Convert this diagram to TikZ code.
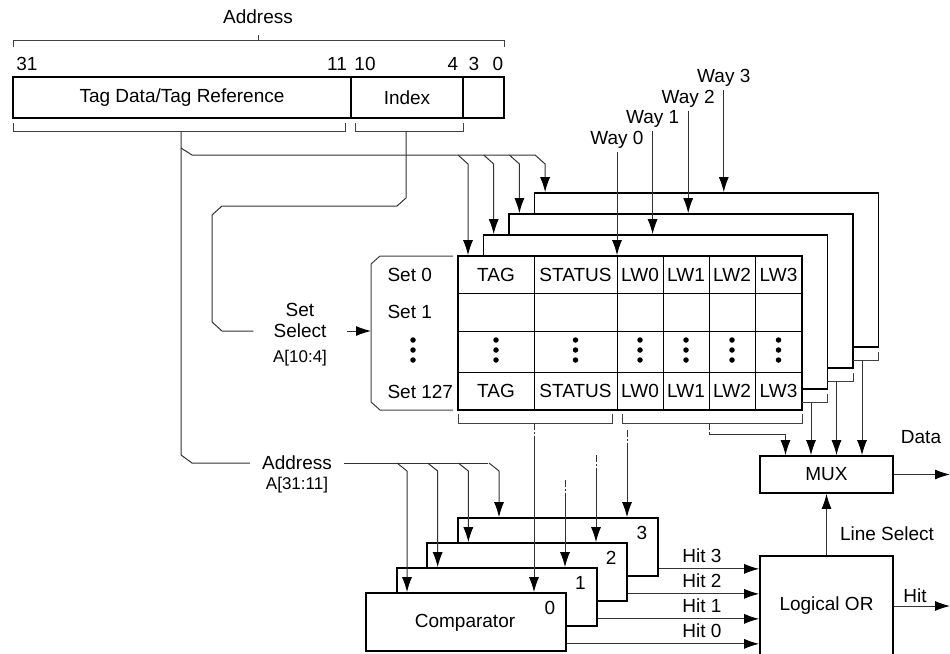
\documentclass[tikz,border=0pt]{standalone}
\usepackage{fontspec}
\setmainfont{Liberation Sans}
\usetikzlibrary{arrows.meta}

\begin{document}
\begin{tikzpicture}[x=1pt,y=-1pt,
    font=\fontsize{19}{21}\selectfont,
    conn/.style={draw=black!80,line width=1pt},
    arr/.style={conn,-{Latex[length=15pt,width=10pt,color=black]}},
    dd/.style={conn,dash pattern=on 7pt off 2pt on 1.5pt off 2pt},
    brk/.style={draw=black!75,line width=1pt},
    field/.style={draw,line width=1.7pt,minimum height=41pt,inner sep=0pt},
    wbox/.style={draw,line width=1.7pt,fill=white,minimum width=344pt,minimum height=154pt,inner sep=0pt},
    cbox/.style={draw,line width=1.7pt,fill=white,minimum width=200pt,minimum height=58pt,inner sep=0pt},
    blk/.style={draw,line width=1.7pt,minimum width=133pt,inner sep=0pt},
    cellline/.style={draw,line width=0.8pt},
    narrow/.style={font=\fontsize{17}{19}\selectfont},
    setdot/.style={circle,fill,inner sep=0pt,minimum size=5.5pt}]
    \useasboundingbox (0,0) rectangle (950,653);

    % address word
    \node (addrtitle) at (258,17) {Address};
    \draw[brk] (13,47) -- (13,40) -- (504,40) -- (504,47) (258,40) -- (258,35);
    \foreach \x/\b in {27/31,337/11,365/10,453/4,474/3,498/0}
        \node (bit\b) at (\x,64) {\b};
    \node[field,minimum width=338pt] (tagfld) at (182,97.5) {Tag Data/Tag Reference};
    \node[field,minimum width=112pt] (idxfld) at (407,97.5) {Index};
    \node[field,minimum width=41pt] (lowfld) at (483.5,97.5) {};
    \draw[brk] (13,123) -- (13,131) -- (345,131) -- (345,123);
    \draw[brk] (355,123) -- (355,131) -- (463,131) -- (463,123);
    \coordinate (tagtick) at (181,131);
    \coordinate (tagsplit) at (181,148);
    \coordinate (idxtick) at (406,131);

    % the four ways
    \foreach \i in {3,2,1}
        \node[wbox] (way\i) at (630+25.5*\i,333-21*\i) {};
    \node[wbox] (way0) at (630,333) {};
    \foreach \x in {534,617,663,709,755}
        \draw[cellline] (\x,256) -- (\x,410);
    \foreach \y in {293,331,372}
        \draw[cellline] (458,\y) -- (802,\y);
    \foreach \x/\t in {496/TAG,575.5/STATUS,640/LW0,686/LW1,732/LW2,778.5/LW3} {
        \node (top\t) at (\x,275) {\t};
        \node (bot\t) at (\x,391) {\t};
        \foreach \y/\n in {340/a,350/b,360/c}
            \node[setdot] (dot\t\n) at (\x,\y) {};
    }
    \node[anchor=west] (set0) at (384,275) {Set 0};
    \node[anchor=west] (set1) at (384,312) {Set 1};
    \node[anchor=west] (set127) at (384,392) {Set 127};
    \foreach \y/\n in {340/a,350/b,360/c}
        \node[setdot] (dotset\n) at (413,\y) {};
    \draw[brk] (453,256) -- (380,256) -- (371,264) -- (371,402) -- (380,410) -- (453,410);
    \coordinate (setbrk) at (371,331);

    % set select
    \node (setlbl) at (300,310) {Set};
    \node[inner xsep=20pt] (sellbl) at (300,331) {Select};
    \node[narrow] (idxlbl) at (300,358) {A[10:4]};
    \draw[conn] (idxtick) -- (406,198) -- (397,206) -- (222,206) -- (212,215) -- (212,322) -- (222,331) -- (sellbl.west);
    \draw[arr] (sellbl.east) -- (setbrk);

    % tag to ways
    \node[inner xsep=12pt] (cmpaddr) at (297,463) {Address};
    \node[narrow] (cmpaddr2) at (297,485) {A[31:11]};
    \draw[conn] (tagtick) -- (181,455) -- (192,463) -- (cmpaddr.west);
    \draw[conn] (tagsplit) -- (192,155) -- (535,155);
    \foreach \i in {0,...,3}
        \draw[arr] (458+25.7*\i,155) -- ++(10,9) coordinate (tc\i) -- (tc\i |- way\i.north);
    \foreach \i in {0,...,3} {
        \node (wlbl\i) at (617+35.6*\i,140-20.7*\i) {Way \i};
        \draw[arr] (wlbl\i.south) -- (wlbl\i.south |- way\i.north);
    }

    % comparators
    \foreach \i in {3,2,1,0} {
        \node[cbox] (cmp\i) at (466+30.67*\i,622-25*\i) {};
        \node (cnum\i) at ([xshift=-17pt,yshift=-16pt]cmp\i.north east) {\i};
    }
    \node (cmplbl) at (465,623) {Comparator};
    \draw[conn] (cmpaddr.east) -- (488,463);
    \foreach \i in {0,...,3}
        \draw[arr] (397+30.67*\i,463) -- ++(10,8) coordinate (ca\i) -- (ca\i |- cmp\i.north);
    \draw[brk] (458,414) -- (458,423) -- (612,423) -- (612,414);
    \draw[brk] (622,414) -- (622,423) -- (802,423) -- (802,414);
    \foreach \i/\ys in {0/423,1/480,2/455,3/430} {
        \draw[dd] (534+31*\i,\ys) -- ++(0,20) coordinate (tgs\i);
        \draw[arr] (tgs\i) -- (tgs\i |- cmp\i.north);
    }

    % mux and logical or
    \node[blk,minimum height=37pt] (mux) at (826.5,474.5) {MUX};
    \node[blk,minimum height=100pt] (orbox) at (826.5,606) {Logical OR};
    \draw[dd] (709,423) -- (709,434) coordinate (lwb);
    \draw[arr] (lwb) -| (mux.north -| 785.5,0);
    \foreach \i in {1,2,3} {
        \draw[brk] (776.5+25.5*\i,423-21*\i) -- (802+25.5*\i,423-21*\i) -- ++(0,-8);
        \draw[arr] (785.5+25.5*\i,423-21*\i) coordinate (lw\i) -- (lw\i |- mux.north);
    }
    \foreach \i in {0,...,3} {
        \coordinate (h\i) at ([yshift=8pt]cmp\i.south east);
        \draw[arr] (h\i) -- (h\i -| orbox.west);
        \node (hl\i) at (702,631-25*\i) {Hit \i};
    }
    \draw[arr] (orbox.north) -- (mux.south);
    \node (lsel) at (887,534) {Line Select};
    \coordinate (dout) at (950,474.5);
    \coordinate (hout) at (950,606);
    \draw[arr] (mux.east) -- (dout);
    \draw[arr] (orbox.east) -- (hout);
    \node (dlbl) at (921,437) {Data};
    \node (hlbl) at (915,596) {Hit};
\end{tikzpicture}
\end{document}
